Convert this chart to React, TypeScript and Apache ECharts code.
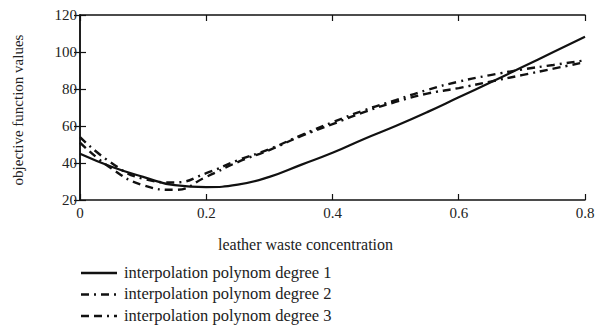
import React, { useEffect, useRef } from "react";
import * as echarts from "echarts";

const xValues = [0, 0.05, 0.1, 0.15, 0.2, 0.25, 0.3, 0.35, 0.4, 0.45, 0.5, 0.55, 0.6, 0.65, 0.7, 0.75, 0.8];
const degree1 = [45, 38, 32.5, 28, 27, 28.3, 32.5, 39, 45.5, 53, 60, 67.5, 75.5, 83.5, 91.7, 100, 108.3];
const degree2 = [54, 40, 31.5, 29.5, 34.5, 41.5, 47.5, 55, 62, 68.5, 74, 79.5, 84, 87.5, 90.5, 93, 95.5];
const degree3 = [51, 37, 28, 25.5, 32.5, 40.5, 47, 54.5, 61, 67.5, 73, 77.5, 80.5, 84, 87.5, 91, 94.5];
const seriesNames = [
  "interpolation polynom degree 1",
  "interpolation polynom degree 2",
  "interpolation polynom degree 3",
];
const dashPatterns: (number[] | null)[] = [null, [8, 5, 2, 5], [8, 5, 8, 5, 2, 5]];
const xTitle = "leather waste concentration";
const yTitle = "objective function values";

const FONT = "Liberation Serif";

export default function App() {
  const ref = useRef<HTMLDivElement>(null);
  useEffect(() => {
    if (!ref.current) return;
    const chart = echarts.init(ref.current, null, { renderer: "svg" });
    const pair = (ys: number[]) => xValues.map((x, i) => [x, ys[i]]);
    const axisLine = { show: true, lineStyle: { color: "#111", width: 1.5 } };
    const tick = { show: true, inside: true, length: 6, lineStyle: { color: "#111", width: 1.2 } };
    const label = { color: "#222", fontFamily: FONT, fontSize: 15 };
    const seriesData = [degree1, degree2, degree3];
    const legendGraphics: any[] = [];
    seriesNames.forEach((name, i) => {
      const y = 273 + i * 21.5;
      legendGraphics.push({
        type: "line",
        shape: { x1: 81, y1: y, x2: 117, y2: y },
        style: {
          stroke: "#111",
          lineWidth: 2.4,
          lineDash: dashPatterns[i] || undefined,
        },
      });
      legendGraphics.push({
        type: "text",
        x: 124,
        y: y - 1,
        style: {
          text: name,
          fill: "#222",
          fontFamily: FONT,
          fontSize: 16.5,
          verticalAlign: "middle",
        },
      });
    });
    chart.setOption({
      animation: false,
      backgroundColor: "#fff",
      grid: { left: 80, right: 13, top: 15, bottom: 125 },
      xAxis: [
        {
          type: "value",
          min: 0,
          max: 0.8,
          interval: 0.2,
          position: "bottom",
          axisLine,
          axisTick: tick,
          splitLine: { show: false },
          axisLabel: { ...label, margin: 5, formatter: (v: number) => String(Math.round(v * 10) / 10) },
        },
        {
          type: "value",
          min: 0,
          max: 0.8,
          interval: 0.2,
          position: "top",
          axisLine,
          axisTick: tick,
          splitLine: { show: false },
          axisLabel: { show: false },
        },
      ],
      yAxis: [
        {
          type: "value",
          min: 20,
          max: 120,
          interval: 20,
          position: "left",
          axisLine,
          axisTick: tick,
          splitLine: { show: false },
          axisLabel: { ...label, margin: 3 },
        },
        {
          type: "value",
          min: 20,
          max: 120,
          interval: 20,
          position: "right",
          axisLine,
          axisTick: tick,
          splitLine: { show: false },
          axisLabel: { show: false },
        },
      ],
      series: seriesNames.map((name, i) => ({
        name,
        type: "line",
        smooth: true,
        symbol: "none",
        data: pair(seriesData[i]),
        lineStyle: { color: "#111", width: i === 0 ? 2.2 : 2.4, type: dashPatterns[i] || "solid" },
        itemStyle: { color: "#111" },
      })),
      graphic: [
        {
          type: "text",
          x: 218,
          y: 244,
          style: {
            text: xTitle,
            fill: "#222",
            fontFamily: FONT,
            fontSize: 16,
            verticalAlign: "middle",
          },
        },
        {
          type: "text",
          x: 18,
          y: 110,
          rotation: Math.PI / 2,
          style: {
            text: yTitle,
            fill: "#222",
            fontFamily: FONT,
            fontSize: 15,
            align: "center",
            verticalAlign: "middle",
          },
        },
        ...legendGraphics,
      ],
    });
    return () => chart.dispose();
  }, []);
  return <div ref={ref} style={{ width: 598, height: 325, position: "absolute", left: 0, top: 0 }} />;
}
